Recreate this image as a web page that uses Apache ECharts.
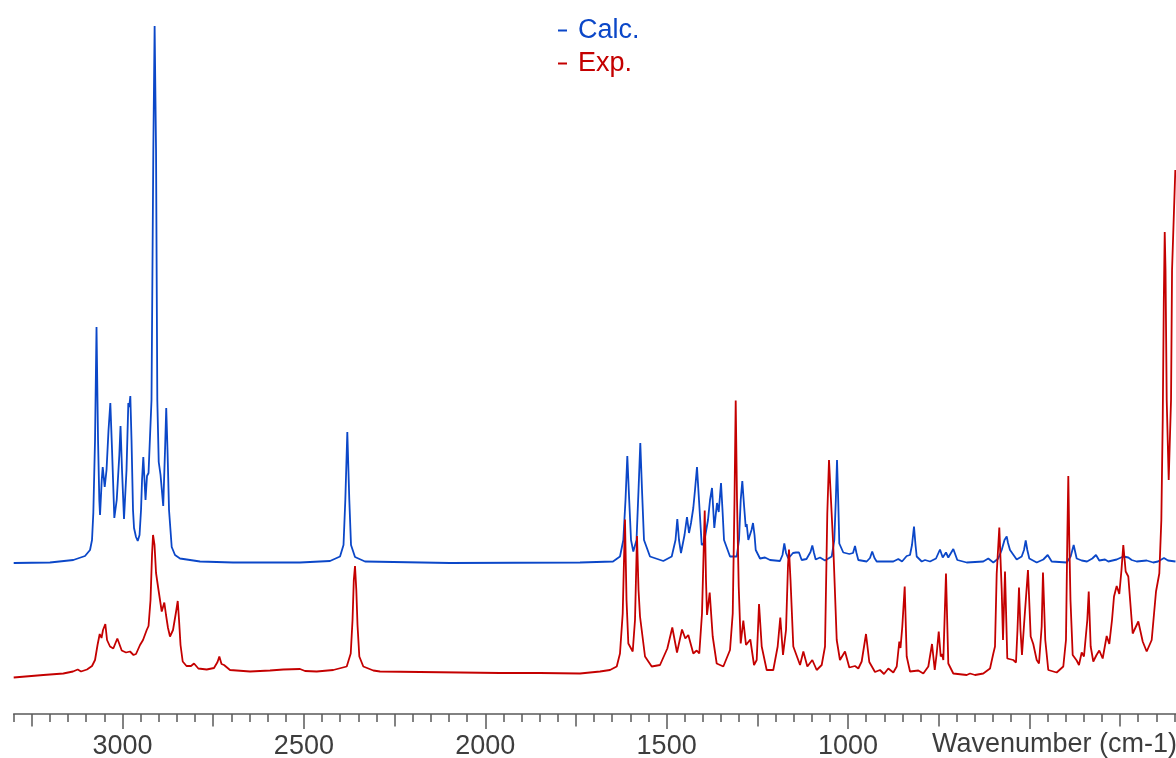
<!DOCTYPE html>
<html><head><meta charset="utf-8">
<script src="https://cdn.jsdelivr.net/npm/echarts@6/dist/echarts.min.js"></script>
<style>html,body{margin:0;padding:0;background:#fff}#c{width:1176px;height:758px}</style>
</head><body><div id="c"></div><script>
const seriesNames = ['Calc.', 'Exp.'];
const axisTitle = 'Wavenumber (cm-1)';
const tickLabels = [3000, 2500, 2000, 1500, 1000];
const midTicks = [250, 750, 1250, 1750, 2250, 2750, 3250];
const majorTicks = [500, 1000, 1500, 2000, 2500, 3000];

const calcWavenumber = [3300,3200,3135.6,3103.4,3089.6,3084.1,3080.5,3075.8,3071.7,3067.5,3064,3062,3057.3,3054.6,3049.1,3044.1,3038.6,3033.6,3028.9,3022.6,3016,3008.8,3005.5,3001.4,2995.9,2989,2984,2981.5,2978.5,2975.2,2971.1,2968.3,2962.8,2958.1,2953.1,2949,2946.2,2942.7,2936.6,2932.5,2928.3,2920.1,2915.1,2911.5,2907.6,2904.1,2900.2,2895.2,2887.8,2882.8,2879.5,2876,2871.8,2864.4,2855.3,2841.5,2786.4,2695.4,2510.7,2428,2400.4,2390.8,2385.8,2380.3,2374.8,2370.1,2359.1,2331.5,2097.2,1738.8,1647.8,1628.6,1619.4,1613.4,1608.4,1603.2,1598.2,1591.9,1583,1577.5,1572.6,1567.9,1562.4,1545.9,1509.2,1486,1475.5,1470.6,1465.9,1460.4,1450.7,1443.9,1438.3,1432.8,1426.5,1421.8,1416.3,1410.8,1403.3,1397,1386,1380.4,1374.9,1368.6,1361.1,1356.4,1350.1,1346,1341.8,1325.3,1306.8,1300.5,1295.8,1291.4,1286.7,1282,1279.3,1274.8,1266,1261.9,1257.7,1254.4,1242.6,1228.8,1215,1187.5,1180.6,1175.6,1170.9,1164.6,1151.7,1143.4,1135.1,1127.7,1114.4,1103.4,1098.4,1093.7,1089.1,1077.2,1063.4,1044.9,1037.8,1033.6,1030.3,1027,1024,1013,996.4,986.2,980.7,976.6,971.6,948.5,939.4,933.3,927,920.9,875.1,861.3,851.1,838.2,829.1,823.6,818.1,813.9,810.6,796.8,787.7,773.9,757.4,746.4,738.9,729.9,723.5,709.7,698.7,672.8,627.1,613.3,599.4,585.7,576.3,568.6,562.5,558.9,553.4,535,521.2,514.8,510.1,505.7,500.2,479.8,461.6,449.5,438.5,397.2,386.2,377.9,369.6,355.8,341.1,326.5,316.4,307.3,291.5,282.4,259.3,241.1,227.3,217.9,204.2,176.6,158.5,145.5,129,118,97.2];
const calcIntensity = [0,0.1,0.6,1.4,2.6,4.6,10,24.6,47.2,24.6,12.6,9.6,16.6,19.2,15.2,18.6,26.6,32,22.6,9,12.6,21.6,27.4,18.6,8.8,18.6,32,31.2,33.4,24.6,10.6,7,5.2,4.4,5.6,10.6,16.6,21.2,12.6,17.4,18,32.6,82.6,107.4,82.6,32.6,20.2,17.6,11.4,22.6,31,22.6,10.6,3.2,1.6,0.9,0.3,0.1,0.1,0.4,1.3,3.6,12.6,26.2,12.6,3.6,1.2,0.3,0,0.1,0.3,1.3,4.6,12.6,21.4,12.6,4.6,2.3,4.6,14.6,24,14.6,4.6,1.3,0.4,1.3,4.6,8.8,4.6,2,5.6,9.2,6,8,11,14.6,19.2,12.6,3.6,4,8.6,12.6,15,7,12,10.2,16,10.6,4.6,1.3,1.3,4.6,12.6,16.4,11.6,7.2,7.8,4.6,6.6,8,5.6,2.6,0.9,1.1,0.6,0.4,1.6,3.9,2,0.9,2,2.1,2.1,0.6,0.8,2.2,3.5,2,0.7,1.1,0.5,1.3,4.6,12.6,20.6,12.6,3.9,2.1,1.8,2,3.4,2,0.6,0.3,1,2.3,1,0.3,0.3,0.8,0.3,1.4,1.6,3.6,7.3,3.6,1.3,0.3,0.6,0.3,0.9,2.7,1.1,2.1,1.1,2.8,0.6,0.1,0.3,0.9,0.1,0.9,2.6,4.6,5.3,4,2.6,0.7,1.3,2.6,4.5,2.6,0.9,0.1,0.7,1.6,0.3,0.1,1.3,3.6,0.9,0.5,0.3,0.9,1.6,0.5,0.7,0.3,0.7,1.3,1.1,0.6,0.3,0.5,0.1,0.3,1,0.5,0.3];

const expWavenumber = [3300,3218.3,3163.2,3136.5,3123.5,3114.4,3097.9,3084.1,3075.8,3068.9,3062.9,3057.9,3053.8,3047.4,3042.7,3034.5,3025.4,3014.3,3002.2,2990.4,2979.3,2969.7,2962.8,2951.8,2943.5,2933.3,2928.3,2922.8,2918.7,2915.9,2911.8,2907.6,2900.8,2891.9,2884.8,2880.1,2874.6,2869.1,2860.8,2852.5,2847.8,2844.2,2840.1,2834.1,2823.6,2811.2,2802.9,2791,2767.9,2747.8,2738.1,2733.1,2727.1,2720.2,2716.6,2703.7,2648.5,2593.4,2556.7,2510.7,2496.9,2464.7,2418.9,2381.9,2370.9,2365.9,2362.4,2359.1,2355.5,2352.2,2347.2,2336.2,2308.6,2290.1,2179.9,2069.6,1959.3,1849.1,1738.8,1683.7,1656.1,1637.6,1628.6,1621.1,1614.8,1610.6,1605.6,1593.5,1587.2,1581.7,1577.5,1573.4,1567.9,1559.6,1541.1,1518.3,1498.1,1484.4,1471.4,1457.6,1448.5,1440.3,1426.5,1417.1,1410,1402.5,1395,1391.5,1388.7,1381.3,1373,1362,1343.7,1325.3,1317.8,1312.9,1309.6,1306,1301.3,1295.8,1288.6,1281.2,1269.3,1259.1,1251.7,1245.3,1237.9,1224.2,1206,1193.9,1186.7,1179.2,1170.9,1165.4,1162.7,1158.5,1150.8,1132.2,1123.1,1112.1,1098.4,1086.3,1072.5,1063.4,1057.1,1052.4,1046.9,1040.6,1031.1,1022.2,1008.3,996.4,980.7,971.6,962.3,950.4,941.3,925.6,911.8,900.8,888.9,875.1,865.7,858.6,855.3,850.3,843.7,838.2,829.1,806.2,792.4,778.6,768.4,760.9,755.5,749.9,744.4,740.8,737.2,729.9,723.5,709.7,672.8,663.6,649.8,627.1,608.5,599.4,594.8,590.1,582.9,576.3,572.7,567.2,560.9,544.4,536.9,532.8,528.6,524.5,520.4,514.1,503.9,496.4,489.3,479.8,473.5,466.1,462.5,456.2,447.9,424.7,406.5,399.1,395.5,392.7,390,386.7,380.6,369.6,363.3,355.8,349.5,340.3,336.4,331,323.8,314.9,307.3,297.9,286.9,279.7,272.2,266.7,259.3,252.1,246.1,241.1,234.5,227.3,215.2,199.7,187.6,176.6,162.8,150.9,141.8,136.2,132.4,129.4,126.9,124.7,121.4,115.9,109.5,106.7,97.7];
const expIntensity = [0.1,0.6,0.9,1.3,1.7,1.3,1.7,2.4,3.6,6.6,8.8,8,9.6,10.8,7.6,6.3,5.9,7.9,5.5,5.1,5.3,4.6,4.8,6.6,7.6,9.6,10.4,15.6,24.6,28.6,26.6,21,17.6,13.3,15.1,12.6,10,8.3,9.6,13.2,15.4,11.6,6.6,3.3,2.4,2.4,2.9,1.9,1.7,2,3.2,4.3,2.8,2.6,2.4,1.6,1.3,1.5,1.7,1.8,1.4,1.3,1.6,2.3,4.9,11.6,19.6,22.4,17.6,10.6,4.3,2.3,1.5,1.3,1.2,1.1,1,1,0.9,1.3,1.6,2.3,4.9,12.9,31.7,15.6,6.9,5.3,11.6,28.4,17.6,12.3,12.1,4.3,2.3,2.6,5.9,10.1,5.1,9.7,7.9,8.6,4.9,5.5,4.9,12.9,33.5,19.6,12.6,17.1,8.3,2.9,2.3,5.6,12.9,35.6,55.5,35.6,18.3,6.9,11.5,6.6,7.7,2.6,3.6,14.8,6.3,1.6,1.6,6.3,12.1,4.6,9.6,22.6,25.7,19.6,6.3,2.6,5.3,2.3,3.6,1.6,2.6,6.3,32.9,43.6,43.4,26.3,7.6,3.6,5.3,2.1,2.4,1.9,3.3,8.8,3.2,1.2,1.6,0.8,1.9,1.1,2.3,7.3,6,10.3,18.3,4.3,1.3,1.5,0.9,2.3,6.8,1.6,4.9,9.3,4.3,4.8,3.6,20.9,2.9,0.9,0.6,0.9,0.6,0.9,1.9,4.9,6.3,20.9,30.1,17.6,7.6,21.3,3.9,3.6,3.1,9.6,18.1,9.6,4.6,11.3,21.6,8.3,6.8,3.6,2.9,10.3,21.1,7.6,1.6,1.1,2.3,7.6,27.6,40.4,27.6,15.6,4.6,3.5,2.6,5.1,4.3,11.6,17.3,6.3,3.3,4.6,5.5,3.9,8.4,6.8,11.6,16.3,18.4,16.8,21.6,26.6,21.3,20.3,8.9,11.3,7.3,5.3,7.6,17.3,20.9,31.6,51.6,75.6,89.2,81.6,55.6,39.6,55.6,81.6,101.6];

const BLUE = '#0b47c8';
const RED = '#c40000';
const LABEL = '#3d3d3d';
const AXIS = '#5a5a5a';
const FONT = "'Liberation Sans', Arial, sans-serif";

const calcData = calcWavenumber.map((w, i) => [w, calcIntensity[i]]);
const expData = expWavenumber.map((w, i) => [w, expIntensity[i]]);

function xAxisBase(extra) {
  return Object.assign({
    type: 'value', gridIndex: 0, inverse: true, min: 0, max: 3300, position: 'bottom', offset: 0,
    splitLine: { show: false }, minorTick: { show: false }, minorSplitLine: { show: false }
  }, extra);
}

const chart = echarts.init(document.getElementById('c'), null, { renderer: 'canvas' });
chart.setOption({
  animation: false,
  backgroundColor: '#ffffff',
  textStyle: { fontFamily: FONT },
  grid: { left: 13.7, right: -34.75, top: 14, bottom: 44, containLabel: false, outerBoundsMode: 'none' },
  legend: {
    orient: 'vertical', left: 553, top: 12, itemWidth: 9, itemHeight: 2, itemGap: 6,
    icon: 'rect', selectedMode: false,
    textStyle: { fontSize: 27, fontFamily: FONT, lineHeight: 27, padding: [0, 0, 0, 6] },
    data: [
      { name: seriesNames[0], textStyle: { color: BLUE } },
      { name: seriesNames[1], textStyle: { color: RED } }
    ]
  },
  xAxis: [
    xAxisBase({
      interval: 50,
      axisLine: { show: true, onZero: false, lineStyle: { color: AXIS, width: 1.5 } },
      axisTick: { show: true, length: 8, lineStyle: { color: AXIS, width: 1.5 } },
      axisLabel: { show: true, customValues: tickLabels, margin: 19, fontSize: 27, fontFamily: FONT, color: LABEL,
        formatter: v => String(v) }
    }),
    xAxisBase({
      axisLine: { show: false, onZero: false },
      axisTick: { show: true, customValues: midTicks, length: 12.5, lineStyle: { color: AXIS, width: 1.5 } },
      axisLabel: { show: false }
    }),
    xAxisBase({
      axisLine: { show: false, onZero: false },
      axisTick: { show: true, customValues: majorTicks, length: 15, lineStyle: { color: AXIS, width: 1.5 } },
      axisLabel: { show: false }
    })
  ],
  yAxis: [
    { type: 'value', gridIndex: 0, show: false, min: -7.2, max: 132.8, splitLine: { show: false } },
    { type: 'value', gridIndex: 0, show: false, min: -30.2, max: 109.8, splitLine: { show: false } }
  ],
  series: [
    { name: seriesNames[0], type: 'line', xAxisIndex: 0, yAxisIndex: 1, data: calcData,
      showSymbol: false, symbol: 'none', lineStyle: { color: BLUE, width: 1.8 }, itemStyle: { color: BLUE } },
    { name: seriesNames[1], type: 'line', xAxisIndex: 0, yAxisIndex: 0, data: expData,
      showSymbol: false, symbol: 'none', lineStyle: { color: RED, width: 1.8 }, itemStyle: { color: RED } }
  ],
  graphic: [{
    type: 'text', x: 1177, y: 745,
    style: { text: axisTitle, fontSize: 27, fontFamily: FONT, fill: LABEL,
      align: 'right', textAlign: 'right', verticalAlign: 'middle', textVerticalAlign: 'middle' }
  }]
});
</script></body></html>
